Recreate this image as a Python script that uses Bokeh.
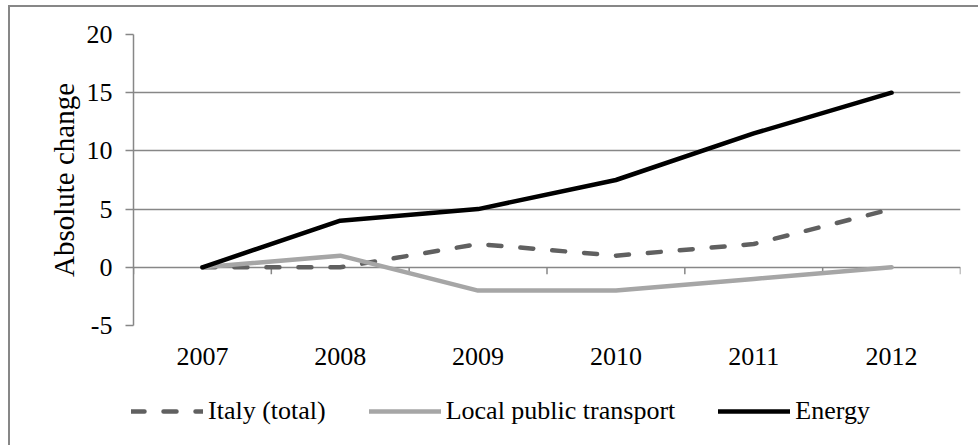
from bokeh.plotting import figure
from bokeh.layouts import column
from bokeh.models import Range1d, FixedTicker, Legend, LegendItem
from bokeh.embed import file_html
from bokeh.resources import INLINE

years = ["2007", "2008", "2009", "2010", "2011", "2012"]
italy_total = [0, 0, 2, 1, 2, 5]
local_public_transport = [0, 1, -2, -2, -1, 0]
energy = [0, 4, 5, 7.5, 11.5, 15]
y_ticks = [-5, 0, 5, 10, 15, 20]
y_tick_labels = ["-5", "0", "5", "10", "15", "20"]
series_names = ["Italy (total)", "Local public transport", "Energy"]

FONT = "Liberation Serif"
GRID = "#878787"
COLORS = ["#606060", "#a6a6a6", "black"]
DASHES = ["13 19", "solid", "solid"]
SERIES = [italy_total, local_public_transport, energy]
LW = 4.5

xs = [i + 0.5 for i in range(len(years))]
bounds = list(range(len(years) + 1))

fig = figure(width=968, height=375, output_backend="svg", toolbar_location=None,
             x_range=Range1d(0, len(years)), y_range=Range1d(y_ticks[0], y_ticks[-1]),
             min_border_left=123, min_border_right=18, min_border_top=27, min_border_bottom=57)
fig.outline_line_color = None

# grid
fig.xgrid.visible = False
fig.ygrid.ticker = FixedTicker(ticks=y_ticks)
fig.ygrid.grid_line_color = GRID
fig.ygrid.grid_line_width = 1.5

# y axis
fig.yaxis.ticker = FixedTicker(ticks=y_ticks)
fig.yaxis.major_label_overrides = {t: s for t, s in zip(y_ticks, y_tick_labels)}
fig.yaxis.axis_line_color = GRID
fig.yaxis.axis_line_width = 1.5
fig.yaxis.major_tick_line_color = GRID
fig.yaxis.major_tick_line_width = 1.5
fig.yaxis.major_tick_out = 8
fig.yaxis.major_tick_in = 0
fig.yaxis.minor_tick_line_color = None
fig.yaxis.major_label_text_font = FONT
fig.yaxis.major_label_text_font_size = "26px"
fig.yaxis.major_label_text_color = "black"
fig.yaxis.major_label_standoff = 13
fig.yaxis.axis_label = "Absolute change"
fig.yaxis.axis_label_text_font = FONT
fig.yaxis.axis_label_text_font_size = "29px"
fig.yaxis.axis_label_text_font_style = "normal"
fig.yaxis.axis_label_text_color = "black"
fig.yaxis.axis_label_standoff = 4

# x axis (labels only, below the plot)
fig.xaxis.ticker = FixedTicker(ticks=xs)
fig.xaxis.major_label_overrides = {x: y for x, y in zip(xs, years)}
fig.xaxis.axis_line_color = None
fig.xaxis.major_tick_line_color = None
fig.xaxis.minor_tick_line_color = None
fig.xaxis.major_label_text_font = FONT
fig.xaxis.major_label_text_font_size = "26px"
fig.xaxis.major_label_text_color = "black"
fig.xaxis.major_label_standoff = 16

# category boundary ticks on the zero line
fig.segment(x0=bounds, y0=[0] * len(bounds), x1=bounds, y1=[-0.6] * len(bounds),
            line_color=GRID, line_width=1.5)

for vals, col, dash in zip(SERIES, COLORS, DASHES):
    fig.line(xs, vals, line_color=col, line_width=LW, line_dash=dash, line_cap="round")

# legend strip below the chart (its lines lie outside its own visible range)
leg = figure(width=968, height=63, output_backend="svg", toolbar_location=None,
             x_range=Range1d(100, 101), y_range=Range1d(100, 101),
             min_border_left=0, min_border_right=0, min_border_top=0, min_border_bottom=0)
leg.axis.visible = False
leg.grid.visible = False
leg.outline_line_color = None
try:
    leg.frame_align = False
    fig.frame_align = False
    leg_x = 121
except Exception:
    leg_x = 0
items = []
for name, vals, col, dash in zip(series_names, SERIES, COLORS, DASHES):
    r = leg.line(xs, vals, line_color=col, line_width=LW, line_dash=dash, line_cap="round")
    items.append(LegendItem(label=name, renderers=[r]))
legend = Legend(items=items, orientation="horizontal", location=(leg_x, 19))
legend.border_line_color = None
legend.background_fill_alpha = 0
legend.padding = 0
legend.margin = 0
legend.spacing = 43
legend.glyph_width = 72
legend.glyph_height = 20
legend.label_standoff = 5
legend.label_text_font = FONT
legend.label_text_font_size = "26px"
legend.label_text_color = "black"
leg.add_layout(legend, "center")

p = column(fig, leg, spacing=0,
           styles={"border-top": "2px solid #878787", "border-left": "2px solid #878787",
                   "margin-left": "8px", "margin-top": "5px"})

open("out.html", "w").write(file_html(p, INLINE))
